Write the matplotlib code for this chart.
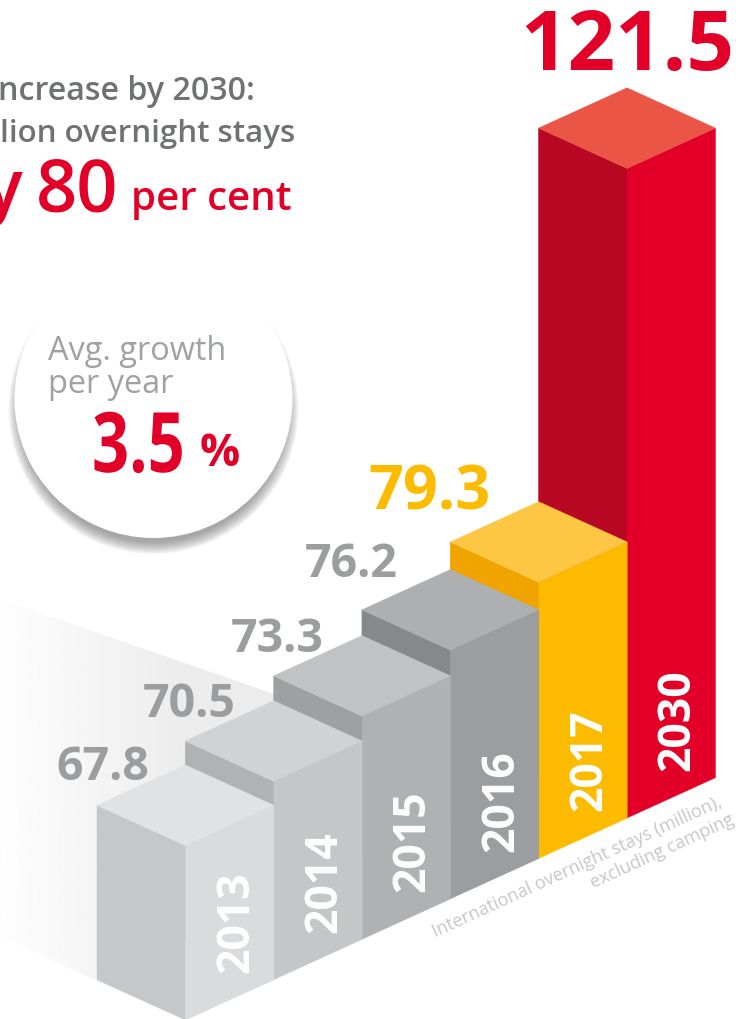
import matplotlib
matplotlib.use("Agg")
import matplotlib.pyplot as plt
import numpy as np
from matplotlib.patches import Circle, Polygon
from matplotlib.patheffects import AbstractPathEffect
from matplotlib.transforms import Affine2D

plt.rcParams['font.family'] = ['Open Sans', 'DejaVu Sans']

years = ["2013", "2014", "2015", "2016", "2017", "2030"]
stays = [67.8, 70.5, 73.3, 76.2, 79.3, 121.5]
value_labels = ["67.8", "70.5", "73.3", "76.2", "79.3", "121.5"]

# top, left, right face of every bar
top_colors = ["#E1E2E4", "#D1D2D4", "#C1C2C4", "#AEAFB1", "#FDC643", "#EA5545"]
left_colors = ["#C6C7C9", "#B1B2B4", "#9FA0A2", "#87888A", "#F0A400", "#B90824"]
right_colors = ["#DADBDD", "#C5C6C8", "#B0B1B3", "#9C9D9F", "#FDBB00", "#E30028"]
label_colors = ["#9C9D9F"] * 4 + ["#FDBB00", "#E30028"]
label_sizes = [33.5, 33.5, 33.5, 33.5, 44, 60]
label_dx = [-83, -85, -84.5, -99.5, -109, 0]
label_dy = [14, 15, 15, 6, 7, -19]

# isometric layout, in pixels
X0, Y0 = 185.5, 1021      # foot of the first bar's front edge
STEP_X, STEP_Y = 88.3, 40.4
HALF_W, HALF_D = 88.5, 40.3
PX_PER_UNIT = 8.85
AXIS_BASE = 48.1          # the bars are cut, they do not start at 0


class Squeeze(AbstractPathEffect):
    # the 3.5 in the circle is set much tighter than Open Sans
    def __init__(self, sx):
        super().__init__()
        self.sx = sx

    def draw_path(self, renderer, gc, tpath, affine, rgbFace=None):
        box = tpath.get_extents()
        mid = (box.x0 + box.x1) / 2
        squeeze = Affine2D().translate(-mid, 0).scale(self.sx, 1).translate(mid, 0)
        renderer.draw_path(gc, tpath, squeeze + affine, rgbFace)


def bar_points(i, value):
    x = X0 + i * STEP_X
    foot = Y0 - i * STEP_Y
    y = foot - (value - AXIS_BASE) * PX_PER_UNIT
    return x, y, foot


def draw_bar(ax, i, value):
    x, y, foot = bar_points(i, value)
    left = [(x - HALF_W, y - HALF_D), (x, y), (x, foot), (x - HALF_W, foot - HALF_D)]
    right = [(x + HALF_W, y - HALF_D), (x, y), (x, foot), (x + HALF_W, foot - HALF_D)]
    top = [(x, y), (x + HALF_W, y - HALF_D), (x, y - 2 * HALF_D), (x - HALF_W, y - HALF_D)]
    ax.add_patch(Polygon(left, fc=left_colors[i], ec=left_colors[i], lw=0.3, zorder=3))
    ax.add_patch(Polygon(right, fc=right_colors[i], ec=right_colors[i], lw=0.3, zorder=3))
    ax.add_patch(Polygon(top, fc=top_colors[i], ec=top_colors[i], lw=0.3, zorder=3))


fig = plt.figure(figsize=(7.36, 10.2), dpi=100)
ax = fig.add_axes([0, 0, 1, 1])

# soft grey floor behind the first bars
shade = np.interp(np.linspace(0, 274, 256), [0, 180, 274], [0.995, 0.925, 0.925]).reshape(1, -1)
im = ax.imshow(shade, cmap="gray", vmin=0, vmax=1, extent=(0, 274, 1020, 590),
               aspect="auto", zorder=1)
floor = Polygon([(0, 600), (274, 695), (274, 981), (186, 1020), (97, 982), (0, 937)],
                transform=ax.transData, fc="none", ec="none")
ax.add_patch(floor)
im.set_clip_path(floor)

# nearest bar goes on last
for i in range(len(stays) - 1, -1, -1):
    draw_bar(ax, i, stays[i])

for i, year in enumerate(years):
    x, y, foot = bar_points(i, stays[i])
    ax.text(x + 51, foot - 48, year, color="white", fontsize=32, fontweight="bold",
            rotation=90, ha="center", va="bottom", zorder=5)
    ax.text(x + label_dx[i], y - 2 * HALF_D + label_dy[i], value_labels[i], color=label_colors[i],
            fontsize=label_sizes[i], fontweight="bold", ha="center", va="baseline", zorder=5)

# headline, the picture cuts it at the left edge
ax.text(255, 100, "ncrease by 2030:", color="#707173", fontsize=23.2, fontweight=600,
        ha="right", va="baseline")
ax.text(295, 142, "lion overnight stays", color="#707173", fontsize=22.5, fontweight=600,
        ha="right", va="baseline")
ax.text(22, 211, "y", color="#E30028", fontsize=52, fontweight=600, ha="right", va="baseline")
ax.text(36, 211, "80", color="#E30028", fontsize=52, fontweight=600, ha="left", va="baseline")
ax.text(131, 210, "per cent", color="#E30028", fontsize=29, fontweight=600, ha="left", va="baseline")

# circle with drop shadow
for off in np.linspace(-6, 6, 13):
    ax.add_patch(Circle((153.5, 410), 139 - off, fc="#555555", ec="none", alpha=0.05, zorder=6))
ax.add_patch(Circle((153.5, 400), 139, fc="white", ec="none", zorder=7))
ax.text(48, 360, "Avg. growth", color="#A0A1A3", fontsize=23.4, ha="left", va="baseline", zorder=8)
ax.text(48, 393, "per year", color="#A0A1A3", fontsize=23.4, ha="left", va="baseline", zorder=8)
ax.text(138.5, 473, "3.5", color="#E30028", fontsize=60, fontweight="bold", ha="center", va="baseline",
        zorder=8, path_effects=[Squeeze(0.78)])
ax.text(200, 466, "%", color="#E30028", fontsize=32, fontweight="bold", ha="left", va="baseline", zorder=8)

# caption along the floor edge
angle = np.degrees(np.arctan2(STEP_Y, STEP_X))
ax.text(723, 806, "International overnight stays (million),", color="#C6C7C9", fontsize=13,
        rotation=angle, rotation_mode="anchor", ha="right", va="baseline", zorder=5)
ax.text(735, 823, "excluding camping", color="#C6C7C9", fontsize=13,
        rotation=angle, rotation_mode="anchor", ha="right", va="baseline", zorder=5)

ax.set_xlim(0, 736)
ax.set_ylim(1020, 0)
ax.axis("off")
fig.savefig("out.png", dpi=100)
